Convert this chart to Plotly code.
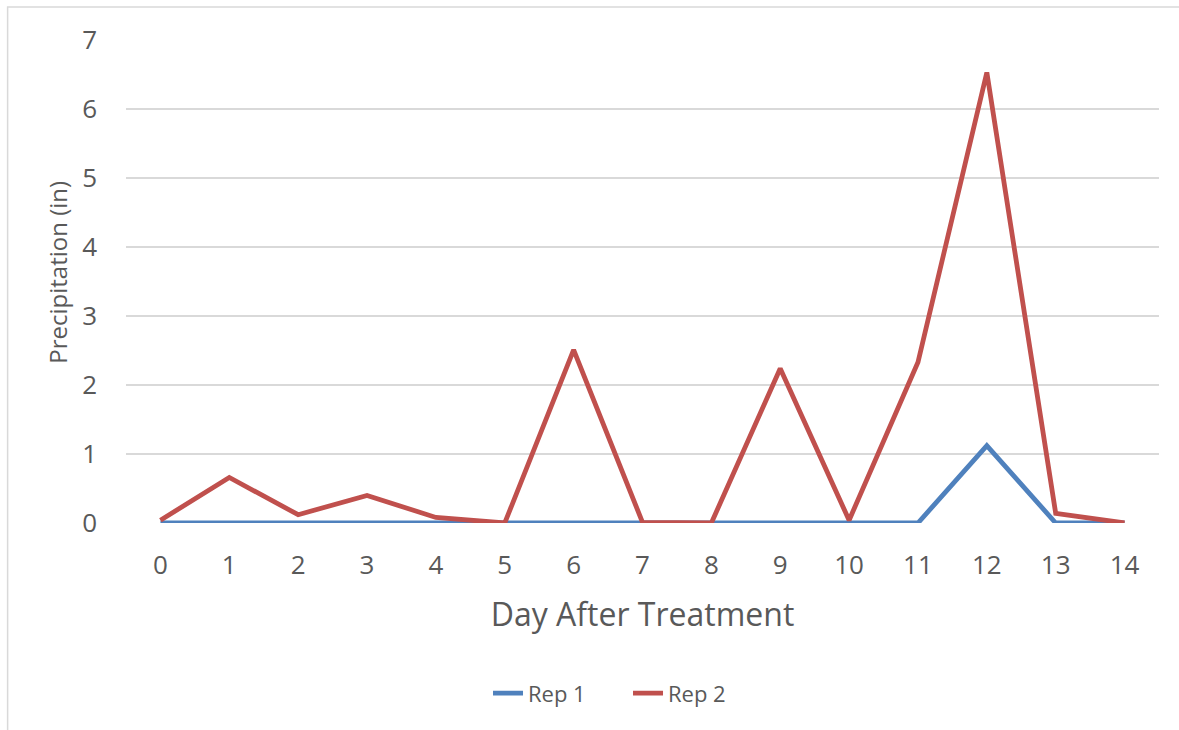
import plotly.graph_objects as go

# Daily precipitation after treatment, two replicates
days = list(range(15))
rep1 = [0, 0, 0, 0, 0, 0, 0, 0, 0, 0, 0, 0, 1.12, 0, 0]
rep2 = [0.04, 0.66, 0.12, 0.40, 0.08, 0, 2.51, 0.01, 0, 2.24, 0.04, 2.33, 6.53, 0.14, 0]
series_names = ["Rep 1", "Rep 2"]
series_colors = ["#4f81bd", "#c0504d"]
y_ticks = list(range(8))

FONT = "Open Sans"
GREY = "#595959"

W, H = 1179, 730
L, R, T, B = 125.5, 19.5, 40, 207.3
pw, ph = W - L - R, H - T - B


def px_x(p):
    return (p - L) / pw


def px_y(p):
    return (H - B - p) / ph


fig = go.Figure()
for name, vals, col in zip(series_names, [rep1, rep2], series_colors):
    fig.add_trace(go.Scatter(
        x=days, y=vals, name=name, mode="lines",
        line=dict(color=col, width=4.8),
    ))

fig.update_layout(
    width=W, height=H,
    margin=dict(l=L, r=R, t=T, b=B, autoexpand=False),
    paper_bgcolor="white", plot_bgcolor="white",
    font=dict(family=FONT, color=GREY),
    showlegend=True,
    legend=dict(
        orientation="h", x=px_x(628), y=px_y(693),
        xanchor="center", yanchor="middle",
        font=dict(family=FONT, size=22, color=GREY),
        bgcolor="rgba(0,0,0,0)",
        entrywidth=95, entrywidthmode="pixels",
    ),
    xaxis=dict(
        range=[-0.5, 14.5], tickvals=days, ticktext=[str(d) for d in days],
        showgrid=False, zeroline=False, showline=False,
        ticks="", ticklabelstandoff=24,
        tickfont=dict(family=FONT, size=26, color=GREY),
        title=dict(text="Day After Treatment", standoff=22,
                   font=dict(family=FONT, size=32, color=GREY)),
        automargin=False,
    ),
    yaxis=dict(
        range=[0, 7], tickvals=y_ticks,
        showgrid=True, gridcolor="#d9d9d9", gridwidth=1.5,
        zeroline=False, showline=False,
        ticks="", ticklabelstandoff=28,
        tickfont=dict(family=FONT, size=26, color=GREY),
        automargin=False,
    ),
    annotations=[dict(
        text="Precipitation (in)", textangle=-90,
        xref="paper", yref="paper", x=px_x(57), y=px_y(272),
        xanchor="center", yanchor="middle", showarrow=False,
        font=dict(family=FONT, size=24, color=GREY),
    )],
    shapes=[dict(
        type="rect", xref="paper", yref="paper",
        x0=px_x(7), x1=px_x(W + 20), y0=px_y(H + 20), y1=px_y(7),
        line=dict(color="#d9d9d9", width=1.5), fillcolor="rgba(0,0,0,0)",
        layer="below",
    )],
)

fig.write_html("out.html")
